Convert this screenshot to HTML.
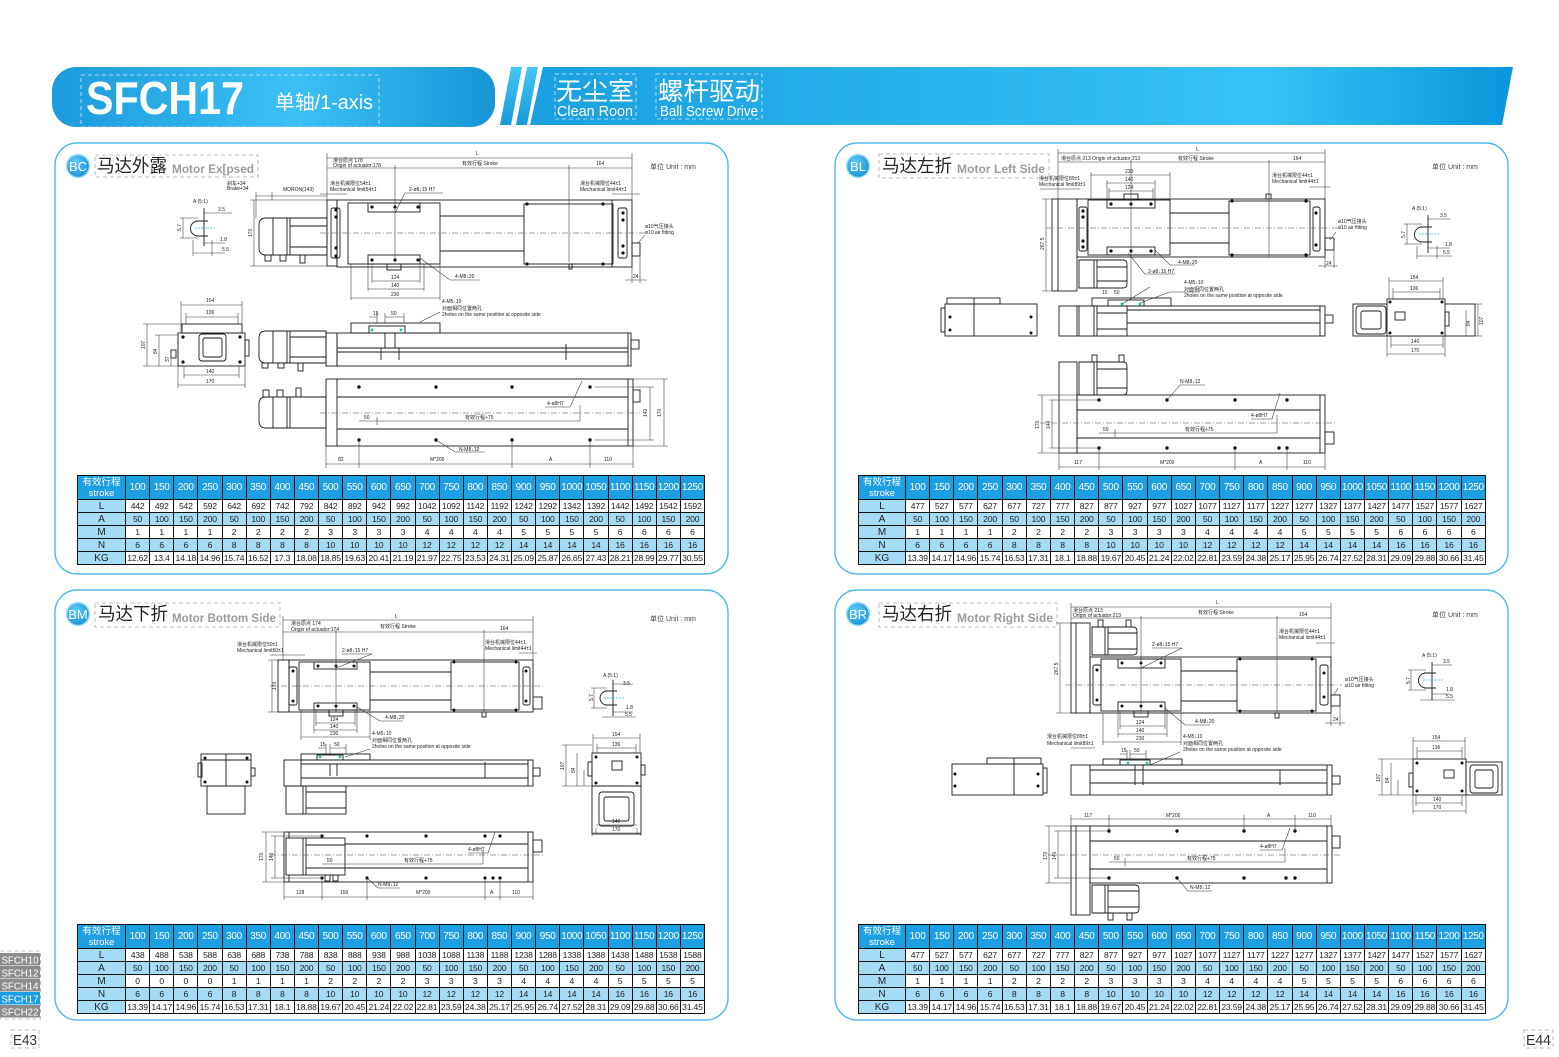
<!DOCTYPE html>
<html><head><meta charset="utf-8">
<style>
html,body{margin:0;padding:0;background:#fff;}
body{width:1559px;height:1057px;position:relative;overflow:hidden;font-family:"Liberation Sans","Noto Sans CJK SC",sans-serif;}
svg{position:absolute;left:0;top:0;font-family:"Liberation Sans","Noto Sans CJK SC",sans-serif;}
.k{fill:none;stroke:#1a1a1a;stroke-width:.9}
.w{fill:#fff;stroke:#1a1a1a;stroke-width:.9}
.d{fill:none;stroke:#333;stroke-width:.55}
.c{fill:none;stroke:#444;stroke-width:.55;stroke-dasharray:6 2 1 2}
.h{fill:#111}
.t{font-size:5px;fill:#222}
.u{font-size:7px;fill:#444}
.pn{fill:none;stroke:#55b9e8;stroke-width:1.4}
.db{fill:none;stroke:#aaa;stroke-width:.8;stroke-dasharray:4 3}
.dw{fill:none;stroke:#d6e6ee;stroke-width:.8;stroke-dasharray:4 3}
.tb{position:absolute;border-collapse:collapse;table-layout:fixed;width:628px;font-family:"Liberation Sans","Noto Sans CJK SC",sans-serif;}
.tb td{border:1px solid #111;padding:0;text-align:center;font-size:8.6px;line-height:11px;height:12px;color:#222;overflow:hidden;white-space:nowrap;background:#fff;letter-spacing:-0.2px}
.tb tr.hd td{background:#1d9fe2;color:#fff;font-size:10px;height:23px;line-height:11px;letter-spacing:-0.3px}
.tb tr.hd td:first-child{font-size:9.5px;line-height:11px;letter-spacing:0}
.tb tr.b td{background:#a6dbf6}
.tb td.f{background:#a6dbf6;font-size:10px;color:#222;letter-spacing:0}
</style></head><body>
<svg width="1559" height="1057" viewBox="0 0 1559 1057">
<defs>
<linearGradient id="gL" x1="0" x2="1" y1="0" y2="0"><stop offset="0" stop-color="#1b9bdb"/><stop offset="0.55" stop-color="#3cc0f4"/><stop offset="1" stop-color="#1796d6"/></linearGradient>
<linearGradient id="gR" x1="0" x2="1" y1="0" y2="0"><stop offset="0" stop-color="#1aa0e0"/><stop offset="0.75" stop-color="#38c1f4"/><stop offset="1" stop-color="#0a96dc"/></linearGradient>
<linearGradient id="gS" x1="0" x2="0" y1="0" y2="1"><stop offset="0" stop-color="#45c6f5"/><stop offset="1" stop-color="#1798d8"/></linearGradient>
<radialGradient id="gB" cx="0.4" cy="0.35" r="0.7"><stop offset="0" stop-color="#5fcdf7"/><stop offset="1" stop-color="#1690d6"/></radialGradient>
</defs>

<!-- HEADER -->
<rect x="52" y="67" width="443" height="60" rx="24" fill="url(#gL)"/>
<rect x="81" y="75" width="298" height="52" class="dw"/>
<text x="86" y="114" font-size="46" font-weight="bold" fill="#fff" textLength="158" lengthAdjust="spacingAndGlyphs">SFCH17</text>
<text x="275" y="109" font-size="20" fill="#fff" textLength="98" lengthAdjust="spacingAndGlyphs">单轴/1-axis</text>
<polygon points="511,67 522,67 511,125 500,125" fill="url(#gS)"/>
<polygon points="527,67 538,67 527,125 516,125" fill="url(#gS)"/>
<polygon points="543,67 1513,67 1502,125 530,125" fill="url(#gR)"/>
<rect x="555" y="74" width="81" height="45" class="dw"/>
<rect x="656" y="74" width="106" height="45" class="dw"/>
<text x="556" y="100" font-size="25" fill="#fff" textLength="78" lengthAdjust="spacingAndGlyphs">无尘室</text>
<text x="557" y="116" font-size="15" fill="#fff" textLength="76" lengthAdjust="spacingAndGlyphs">Clean Roon</text>
<text x="658" y="100" font-size="25" fill="#fff" textLength="102" lengthAdjust="spacingAndGlyphs">螺杆驱动</text>
<text x="660" y="116" font-size="15" fill="#fff" textLength="98" lengthAdjust="spacingAndGlyphs">Ball Screw Drive</text>

<!-- PANELS -->
<rect x="55" y="143" width="673" height="431" rx="22" class="pn"/>
<rect x="835" y="143" width="673" height="431" rx="22" class="pn"/>
<rect x="55" y="590" width="673" height="430" rx="22" class="pn"/>
<rect x="835" y="590" width="673" height="430" rx="22" class="pn"/>

<!-- panel headings -->
<g>
<circle cx="78" cy="166" r="11.5" fill="url(#gB)" stroke="#a8dcf6" stroke-width="1.5"/>
<text x="78" y="171" font-size="13" fill="#fff" text-anchor="middle">BC</text>
<rect x="95" y="155" width="163" height="22" class="db"/>
<text x="97" y="172" font-size="18" fill="#222" textLength="70" lengthAdjust="spacingAndGlyphs">马达外露</text>
<text x="172" y="173" font-size="12" font-weight="bold" fill="#9c9c9c" textLength="82" lengthAdjust="spacingAndGlyphs">Motor Ex[psed</text>

<circle cx="858" cy="166" r="11.5" fill="url(#gB)" stroke="#a8dcf6" stroke-width="1.5"/>
<text x="858" y="171" font-size="13" fill="#fff" text-anchor="middle">BL</text>
<rect x="879" y="154" width="170" height="24" class="db"/>
<text x="882" y="172" font-size="18" fill="#222" textLength="70" lengthAdjust="spacingAndGlyphs">马达左折</text>
<text x="957" y="173" font-size="12" font-weight="bold" fill="#9c9c9c" textLength="88" lengthAdjust="spacingAndGlyphs">Motor Left  Side</text>

<circle cx="78" cy="614" r="11.5" fill="url(#gB)" stroke="#a8dcf6" stroke-width="1.5"/>
<text x="78" y="619" font-size="13" fill="#fff" text-anchor="middle">BM</text>
<rect x="95" y="603" width="185" height="24" class="db"/>
<text x="98" y="620" font-size="18" fill="#222" textLength="70" lengthAdjust="spacingAndGlyphs">马达下折</text>
<text x="172" y="622" font-size="12" font-weight="bold" fill="#9c9c9c" textLength="104" lengthAdjust="spacingAndGlyphs">Motor Bottom Side</text>

<circle cx="858" cy="614" r="11.5" fill="url(#gB)" stroke="#a8dcf6" stroke-width="1.5"/>
<text x="858" y="619" font-size="13" fill="#fff" text-anchor="middle">BR</text>
<rect x="879" y="603" width="178" height="24" class="db"/>
<text x="882" y="620" font-size="18" fill="#222" textLength="70" lengthAdjust="spacingAndGlyphs">马达右折</text>
<text x="957" y="622" font-size="12" font-weight="bold" fill="#9c9c9c" textLength="96" lengthAdjust="spacingAndGlyphs">Motor Right  Side</text>

<text x="650" y="169" class="u">单位 Unit : mm</text>
<text x="1432" y="169" class="u">单位 Unit : mm</text>
<text x="650" y="621" class="u">单位 Unit : mm</text>
<text x="1432" y="617" class="u">单位 Unit : mm</text>
</g>

<!-- ================= BC ================= -->
<g>
<g class="k">
<path d="M266,218 h61 v37 h-61 q-7,0 -7,-7 v-23 q0,-7 7,-7z"/>
<line x1="273" y1="218" x2="273" y2="255"/><line x1="287" y1="218" x2="287" y2="255"/><line x1="290" y1="218" x2="290" y2="255"/>
<line x1="290" y1="226" x2="327" y2="226"/><line x1="290" y1="247" x2="327" y2="247"/>
<rect x="265" y="255" width="6" height="6"/><rect x="280" y="255" width="6" height="6"/><rect x="300" y="255" width="5" height="8"/>
<rect x="327" y="200" width="10" height="66"/>
<rect x="331" y="208" width="9" height="50" rx="2"/>
<rect x="337" y="200" width="295" height="67"/>
<line x1="440" y1="216" x2="524" y2="216"/><line x1="440" y1="251" x2="524" y2="251"/>
<rect x="348" y="203" width="92" height="61" class="w"/>
<rect x="368" y="203" width="52" height="9"/>
<rect x="368" y="255" width="52" height="9"/>
<rect x="387" y="264" width="14" height="6"/>
<rect x="524" y="204" width="89" height="60" class="w"/>
<line x1="612" y1="200" x2="612" y2="267"/>
<rect x="618" y="208" width="9" height="50" rx="2"/>
<rect x="632" y="243" width="8" height="13"/>
<rect x="569" y="264" width="3" height="5"/>
</g>
<line x1="320" y1="233" x2="645" y2="233" class="c"/>
<g class="h">
<circle cx="336" cy="210" r="1.6"/><circle cx="336" cy="217" r="1.6"/><circle cx="336" cy="248" r="1.6"/><circle cx="336" cy="256" r="1.6"/>
<circle cx="372" cy="207" r="1.6"/><circle cx="395" cy="207" r="1.6"/><circle cx="418" cy="207" r="1.6"/>
<circle cx="372" cy="260" r="1.6"/><circle cx="395" cy="260" r="1.6"/><circle cx="418" cy="260" r="1.6"/>
<circle cx="527" cy="204" r="1.6"/><circle cx="603" cy="204" r="1.6"/><circle cx="527" cy="264" r="1.6"/><circle cx="603" cy="264" r="1.6"/>
<circle cx="623" cy="213" r="1.6"/><circle cx="623" cy="220" r="1.6"/><circle cx="623" cy="246" r="1.6"/><circle cx="623" cy="253" r="1.6"/>
</g>
<g class="d">
<path d="M327,158 H632 M327,153 V200 M632,153 V200 M327,168 H632 M395,165 V262 M569,165 V262"/>
<path d="M320,194 H347 M612,194 H640 M256,196 H327 M256,192 V218 M272,192 V200"/>
<path d="M254,200 V266 M250,200 H327 M250,266 H327"/>
<path d="M372,264 V283 M420,264 V283 M368,264 V291 M424,264 V291 M351,264 V300 M440,264 V300 M372,281 H420 M368,289 H424 M351,298 H440"/>
<path d="M443,193 H405 L395,213 M420,258 L450,280 H480 M638,243 L645,235 M632,256 V283 M640,256 V283 M625,280 H647"/>
<path d="M420,322 L440,312"/>
</g>
<g class="t">
<text x="476" y="155">L</text>
<text x="333" y="162">滑台原点 178</text><text x="333" y="167">Origin of actuator:178</text>
<text x="462" y="165">有效行程 Stroke</text><text x="596" y="165">164</text>
<text x="330" y="185">滑台机械限位54±1</text><text x="330" y="191">Mechanical limit54±1</text>
<text x="580" y="185">滑台机械限位44±1</text><text x="580" y="191">Mechanical limit44±1</text>
<text x="409" y="191">2-ø8↓15 H7</text>
<text x="227" y="185">刹车+34</text><text x="227" y="190">Brake+34</text>
<text x="283" y="191">MORON(143)</text>
<text x="252" y="237" transform="rotate(-90 252 237)">170</text>
<text x="391" y="279">124</text><text x="391" y="287">140</text><text x="391" y="296">230</text>
<text x="455" y="278">4-M8↓20</text>
<text x="442" y="303">4-M5↓10</text><text x="442" y="310">对面相同位置两孔</text><text x="442" y="316">2holes on the same position at opposite side</text>
<text x="645" y="228">ø10气压接头</text><text x="645" y="234">ø10 air fitting</text>
<text x="633" y="278">24</text>
</g>
<g class="k">
<path d="M204,208 V246 M196,221 h12 M196,236 h12 M198,221 a7.5,7.5 0 0,0 0,15"/>
</g>
<line x1="195" y1="228" x2="216" y2="228" stroke="#3ab6d8" stroke-width=".8" stroke-dasharray="2 1"/>
<g class="d"><path d="M183,218 V238 M180,218 H198 M180,238 H198 M204,213 H232 M204,243 H225 M193,253 H225 M193,240 V256 M212,240 V256"/></g>
<g class="t"><text x="193" y="203">A (5:1)</text><text x="218" y="211">3.5</text><text x="181" y="231" transform="rotate(-90 181 231)">5.7</text><text x="220" y="241">1.8</text><text x="222" y="251">5.5</text></g>

<g class="k">
<rect x="178" y="333" width="67" height="33"/>
<rect x="182" y="324" width="60" height="9"/>
<rect x="199" y="334" width="27" height="27" rx="3"/>
<rect x="203" y="338" width="19" height="19" rx="2"/>
<rect x="245" y="340" width="4" height="16"/>
<rect x="171" y="350" width="5" height="8"/>
</g>
<g class="h"><circle cx="183" cy="337" r="1.6"/><circle cx="240" cy="337" r="1.6"/><circle cx="183" cy="362" r="1.6"/><circle cx="240" cy="362" r="1.6"/></g>
<g class="d">
<path d="M181,305 H242 M181,301 V333 M242,301 V333 M186,317 H238 M186,313 V324 M238,313 V324"/>
<path d="M184,375 H239 M184,366 V378 M239,366 V378 M178,385 H245 M178,366 V388 M245,366 V388"/>
<path d="M147,324 V366 M143,324 H182 M143,366 H178 M159,335 V366 M155,335 H178 M171,352 V366"/>
</g>
<g class="t"><text x="206" y="302">154</text><text x="206" y="314">136</text><text x="206" y="373">140</text><text x="206" y="383">170</text>
<text x="145" y="349" transform="rotate(-90 145 349)">107</text><text x="157" y="354" transform="rotate(-90 157 354)">84</text><text x="169" y="362" transform="rotate(-90 169 362)">37</text></g>
<g class="k">
<path d="M266,331 h60 v32 h-60 q-7,0 -7,-7 v-18 q0,-7 7,-7z"/>
<line x1="273" y1="331" x2="273" y2="363"/><line x1="287" y1="331" x2="287" y2="363"/><line x1="290" y1="331" x2="290" y2="363"/>
<line x1="290" y1="337" x2="326" y2="337"/><line x1="290" y1="357" x2="326" y2="357"/>
<rect x="262" y="363" width="6" height="5"/><rect x="278" y="363" width="6" height="5"/><rect x="298" y="363" width="5" height="8"/>
<rect x="326" y="333" width="11" height="33"/>
<rect x="337" y="333" width="294" height="33"/>
<line x1="337" y1="348" x2="628" y2="348"/><line x1="337" y1="352" x2="628" y2="352"/><line x1="628" y1="333" x2="628" y2="366"/>
<rect x="351" y="323" width="89" height="10"/>
<rect x="369" y="326" width="36" height="7"/>
<path d="M385,333 v15 h10 v-15 M381,348 v12 M399,348 v12 M566,344 v16"/>
<rect x="631" y="340" width="8" height="9"/>
</g>
<circle cx="372" cy="330" r="1.5" fill="#2cc3b0"/><circle cx="401" cy="330" r="1.5" fill="#2cc3b0"/>
<g class="d"><path d="M369,317 H377 M385,317 H404 M385,313 V323 M404,313 V323 M377,313 V323"/></g>
<g class="t"><text x="373" y="315">15</text><text x="391" y="315">50</text></g>
<g class="k">
<path d="M266,397 h60 v31 h-60 q-7,0 -7,-7 v-17 q0,-7 7,-7z"/>
<line x1="273" y1="397" x2="273" y2="428"/><line x1="287" y1="397" x2="287" y2="428"/><line x1="290" y1="397" x2="290" y2="428"/>
<rect x="263" y="390" width="6" height="7"/><rect x="277" y="390" width="6" height="7"/><rect x="296" y="388" width="5" height="9"/>
<rect x="326" y="379" width="307" height="67"/>
<line x1="337" y1="379" x2="337" y2="446"/><line x1="628" y1="379" x2="628" y2="446"/>
<line x1="337" y1="397" x2="628" y2="397"/><line x1="337" y1="429" x2="628" y2="429"/>
<rect x="633" y="390" width="7" height="12"/>
</g>
<line x1="320" y1="413" x2="640" y2="413" class="c"/>
<g class="h"><circle cx="359" cy="387" r="1.7"/><circle cx="436" cy="387" r="1.7"/><circle cx="512" cy="387" r="1.7"/><circle cx="590" cy="387" r="1.7"/>
<circle cx="359" cy="440" r="1.7"/><circle cx="436" cy="440" r="1.7"/><circle cx="512" cy="440" r="1.7"/><circle cx="590" cy="440" r="1.7"/></g>
<g class="d">
<path d="M633,379 H668 M633,446 H668 M664,379 V446 M595,387 H654 M595,440 H654 M650,387 V440"/>
<path d="M326,464 H633 M326,446 V468 M359,440 V468 M512,440 V468 M590,440 V468 M633,446 V468"/>
<path d="M436,440 L455,452 H485 M582,381 L570,407 H545 M359,421 H580 M580,421 V405 M377,417 V425"/>
</g>
<g class="t"><text x="661" y="417" transform="rotate(-90 661 417)">170</text><text x="647" y="417" transform="rotate(-90 647 417)">140</text>
<text x="338" y="461">82</text><text x="430" y="461">M*200</text><text x="549" y="461">A</text><text x="604" y="461">110</text>
<text x="459" y="451">N-M8↓12</text><text x="547" y="405">4-ø8H7</text><text x="465" y="419">有效行程+75</text><text x="364" y="419">50</text></g>
</g>

<!-- ================= BL ================= -->
<g>
<g class="k">
<rect x="1052" y="199" width="25" height="92"/><line x1="1058" y1="199" x2="1058" y2="291"/>
<rect x="1077" y="199" width="248" height="58"/>
<rect x="1079" y="207" width="8" height="44" rx="2"/>
<line x1="1170" y1="213" x2="1229" y2="213"/><line x1="1170" y1="243" x2="1229" y2="243"/>
<rect x="1088" y="200" width="82" height="55" class="w"/>
<rect x="1107" y="200" width="48" height="8"/><rect x="1107" y="247" width="48" height="8"/>
<rect x="1124" y="194" width="14" height="6"/>
<rect x="1229" y="201" width="81" height="54" class="w"/>
<rect x="1313" y="207" width="7" height="44" rx="2"/>
<rect x="1325" y="238" width="9" height="12"/>
<path d="M1079,260 h44 q4,0 4,4 v20 q0,4 -4,4 h-44z M1094,260 v28 M1097,260 v28 M1097,267 h30 M1097,281 h30"/>
<rect x="1266" y="194" width="5" height="5"/>
</g>
<line x1="1046" y1="228" x2="1338" y2="228" class="c"/>
<g class="h">
<circle cx="1083" cy="211" r="1.6"/><circle cx="1083" cy="217" r="1.6"/><circle cx="1083" cy="241" r="1.6"/><circle cx="1083" cy="247" r="1.6"/>
<circle cx="1111" cy="204" r="1.6"/><circle cx="1131" cy="204" r="1.6"/><circle cx="1151" cy="204" r="1.6"/>
<circle cx="1111" cy="251" r="1.6"/><circle cx="1131" cy="251" r="1.6"/><circle cx="1151" cy="251" r="1.6"/>
<circle cx="1232" cy="201" r="1.6"/><circle cx="1306" cy="201" r="1.6"/><circle cx="1232" cy="255" r="1.6"/><circle cx="1306" cy="255" r="1.6"/>
<circle cx="1316" cy="213" r="1.6"/><circle cx="1316" cy="245" r="1.6"/>
</g>
<g class="d">
<path d="M1058,153 H1325 M1058,149 V199 M1325,149 V199 M1058,162 H1325 M1131,160 V300 M1269,160 V257"/>
<path d="M1091,175 H1170 M1107,183 H1155 M1109,191 H1153 M1091,172 V200 M1170,172 V200 M1107,180 V200 M1155,180 V200 M1109,188 V200 M1153,188 V200"/>
<path d="M1046,199 V291 M1042,199 H1052 M1042,291 H1052 M1040,189 H1080 M1310,187 H1330"/>
<path d="M1336,232 L1330,240 M1318,266 H1338 M1325,250 V268 M1334,250 V268"/>
<path d="M1155,250 L1170,265 H1195 M1128,253 L1145,274 H1175 M1140,303 L1170,292 H1200"/>
</g>
<g class="t">
<text x="1196" y="151">L</text>
<text x="1061" y="160">滑台原点 213 Origin of actuator:213</text><text x="1178" y="160">有效行程 Stroke</text><text x="1293" y="160">164</text>
<text x="1125" y="173">230</text><text x="1125" y="181">140</text><text x="1125" y="189">124</text>
<text x="1039" y="180">滑台机械限位89±1</text><text x="1039" y="186">Mechanical limit89±1</text>
<text x="1272" y="177">滑台机械限位44±1</text><text x="1272" y="183">Mechanical limit44±1</text>
<text x="1044" y="250" transform="rotate(-90 1044 250)">267.5</text>
<text x="1338" y="223">ø10气压接头</text><text x="1338" y="229">ø10 air fitting</text>
<text x="1326" y="265">24</text>
<text x="1178" y="264">4-M8↓20</text><text x="1148" y="273">2-ø8↓15 H7</text>
<text x="1184" y="284">4-M5↓10</text><text x="1184" y="291">对面相同位置两孔</text><text x="1184" y="297">2holes on the same position at opposite side</text>
</g>
<g class="k"><path d="M1428,215 V253 M1420,227 h12 M1420,242 h12 M1422,227 a7.5,7.5 0 0,0 0,15"/></g>
<line x1="1419" y1="234" x2="1440" y2="234" stroke="#3ab6d8" stroke-width=".8" stroke-dasharray="2 1"/>
<g class="d"><path d="M1407,224 V244 M1404,224 H1422 M1404,244 H1422 M1428,219 H1450 M1428,248 H1450 M1417,256 H1452 M1417,246 V259 M1437,246 V259"/></g>
<g class="t"><text x="1412" y="210">A (5:1)</text><text x="1440" y="217">3.5</text><text x="1405" y="238" transform="rotate(-90 1405 238)">5.7</text><text x="1445" y="246">1.8</text><text x="1443" y="254">5.5</text></g>
<g class="k">
<rect x="945" y="304" width="92" height="32"/><rect x="947" y="298" width="53" height="6"/>
<line x1="974" y1="298" x2="974" y2="336"/><rect x="941" y="308" width="4" height="24"/>
<rect x="1059" y="306" width="266" height="30"/>
<line x1="1077" y1="306" x2="1077" y2="336"/>
<line x1="1127" y1="310" x2="1320" y2="310"/><line x1="1127" y1="323" x2="1320" y2="323"/><line x1="1320" y1="306" x2="1320" y2="336"/>
<rect x="1079" y="306" width="48" height="30" class="w"/><path d="M1094,306 v30 M1097,306 v30 M1097,313 h30 M1097,329 h30"/>
<rect x="1092" y="298" width="79" height="8"/><rect x="1108" y="300" width="36" height="6"/>
<rect x="1325" y="315" width="8" height="8"/>
<rect x="1353" y="304" width="122" height="32"/>
<rect x="1356" y="306" width="30" height="28" rx="3"/><rect x="1361" y="311" width="20" height="18" rx="2"/>
<rect x="1387" y="299" width="58" height="37" class="w"/>
<rect x="1395" y="312" width="10" height="8"/><rect x="1445" y="312" width="4" height="14"/>
</g>
<circle cx="1122" cy="304" r="1.5" fill="#2cc3b0"/><circle cx="1140" cy="304" r="1.5" fill="#2cc3b0"/>
<g class="h"><circle cx="950" cy="317" r="1.5"/><circle cx="950" cy="330" r="1.5"/><circle cx="1031" cy="317" r="1.5"/><circle cx="1031" cy="333" r="1.5"/>
<circle cx="1390" cy="302" r="1.5"/><circle cx="1442" cy="302" r="1.5"/><circle cx="1390" cy="333" r="1.5"/><circle cx="1442" cy="333" r="1.5"/></g>
<g class="d">
<path d="M1389,281 H1443 M1389,277 V299 M1443,277 V299 M1393,292 H1440 M1393,288 V299 M1440,288 V299"/>
<path d="M1391,345 H1443 M1391,336 V348 M1443,336 V348 M1387,354 H1445 M1387,336 V357 M1445,336 V357"/>
<path d="M1478,304 V336 M1475,304 H1482 M1475,336 H1482 M1466,310 V336"/>
<path d="M1122,304 L1150,287"/>
</g>
<g class="t"><text x="1410" y="279">154</text><text x="1410" y="290">136</text><text x="1411" y="343">140</text><text x="1411" y="352">170</text>
<text x="1483" y="325" transform="rotate(-90 1483 325)">107</text><text x="1470" y="326" transform="rotate(-90 1470 326)">84</text>
<text x="1102" y="294">15</text><text x="1114" y="294">50</text></g>
<g class="k">
<rect x="1059" y="362" width="18" height="91"/>
<path d="M1079,362 h44 q4,0 4,4 v25 q0,4 -4,4 h-44z M1094,362 v33 M1097,362 v33 M1097,369 h30 M1097,388 h30"/>
<rect x="1092" y="355" width="5" height="7"/><rect x="1119" y="355" width="5" height="7"/>
<rect x="1077" y="395" width="248" height="58"/>
<line x1="1077" y1="410" x2="1320" y2="410"/><line x1="1077" y1="438" x2="1320" y2="438"/><line x1="1320" y1="395" x2="1320" y2="453"/>
<rect x="1325" y="432" width="9" height="12"/>
</g>
<line x1="1040" y1="423" x2="1335" y2="423" class="c"/>
<g class="h"><circle cx="1099" cy="400" r="1.7"/><circle cx="1167" cy="400" r="1.7"/><circle cx="1235" cy="400" r="1.7"/><circle cx="1287" cy="400" r="1.7"/>
<circle cx="1099" cy="448" r="1.7"/><circle cx="1167" cy="448" r="1.7"/><circle cx="1235" cy="448" r="1.7"/><circle cx="1279" cy="448" r="1.7"/><circle cx="1287" cy="448" r="1.7"/></g>
<g class="d">
<path d="M1038,395 H1077 M1038,453 H1077 M1042,395 V453 M1049,400 H1099 M1049,448 H1099 M1052,400 V448"/>
<path d="M1059,467 H1325 M1059,453 V470 M1099,448 V470 M1235,448 V470 M1287,448 V470 M1325,453 V470"/>
<path d="M1167,400 L1180,385 H1205 M1251,419 H1272 L1280,393 M1099,433 H1277 M1277,433 V415 M1115,429 V437"/>
</g>
<g class="t"><text x="1039" y="429" transform="rotate(-90 1039 429)">170</text><text x="1050" y="429" transform="rotate(-90 1050 429)">140</text>
<text x="1074" y="464">117</text><text x="1160" y="464">M*200</text><text x="1259" y="464">A</text><text x="1303" y="464">110</text>
<text x="1180" y="383">N-M8↓12</text><text x="1251" y="417">4-ø8H7</text><text x="1185" y="431">有效行程+75</text><text x="1103" y="431">50</text></g>
</g>

<!-- ================= BM ================= -->
<g>
<g class="k">
<rect x="278" y="660" width="11" height="52"/>
<rect x="289" y="660" width="244" height="52"/>
<rect x="289" y="667" width="8" height="38" rx="2"/>
<line x1="370" y1="672" x2="451" y2="672"/><line x1="370" y1="700" x2="451" y2="700"/>
<rect x="299" y="662" width="71" height="48" class="w"/>
<rect x="314" y="662" width="43" height="7"/><rect x="314" y="703" width="43" height="7"/>
<rect x="329" y="710" width="14" height="6"/>
<rect x="451" y="662" width="68" height="48" class="w"/>
<rect x="523" y="667" width="7" height="38" rx="2"/>
<rect x="533" y="697" width="9" height="12"/>
<rect x="482" y="712" width="4" height="5"/>
</g>
<line x1="270" y1="686" x2="545" y2="686" class="c"/>
<g class="h"><circle cx="293" cy="671" r="1.5"/><circle cx="293" cy="701" r="1.5"/>
<circle cx="318" cy="666" r="1.5"/><circle cx="336" cy="666" r="1.5"/><circle cx="354" cy="666" r="1.5"/>
<circle cx="318" cy="706" r="1.5"/><circle cx="336" cy="706" r="1.5"/><circle cx="354" cy="706" r="1.5"/>
<circle cx="454" cy="662" r="1.5"/><circle cx="516" cy="662" r="1.5"/><circle cx="454" cy="710" r="1.5"/><circle cx="516" cy="710" r="1.5"/>
<circle cx="526" cy="671" r="1.5"/><circle cx="526" cy="701" r="1.5"/></g>
<g class="d">
<path d="M283,620 H533 M283,616 V660 M533,616 V660 M283,632 H533 M336,630 V712 M484,630 V712"/>
<path d="M270,655 H305 M519,653 H537 M342,654 H372 L336,668"/>
<path d="M272,660 V712 M268,660 H278 M268,712 H278"/>
<path d="M316,723 H355 M314,730 H357 M301,737 H370 M316,710 V726 M355,710 V726 M314,710 V733 M357,710 V733 M301,710 V740 M370,710 V740"/>
<path d="M357,707 L380,721 H403 M345,757 L370,749"/>
</g>
<g class="t"><text x="395" y="618">L</text>
<text x="291" y="625">滑台原点 174</text><text x="291" y="631">Origin of actuator:174</text><text x="380" y="628">有效行程 Stroke</text><text x="500" y="630">164</text>
<text x="237" y="646">滑台机械限位50±1</text><text x="237" y="652">Mechanical limit50±1</text>
<text x="485" y="644">滑台机械限位44±1</text><text x="485" y="650">Mechanical limit44±1</text>
<text x="342" y="652">2-ø8↓15 H7</text>
<text x="276" y="690" transform="rotate(-90 276 690)">170</text>
<text x="330" y="721">124</text><text x="330" y="728">140</text><text x="330" y="735">230</text>
<text x="385" y="719">4-M8↓20</text>
<text x="372" y="735">4-M5↓10</text><text x="372" y="742">对面相同位置两孔</text><text x="372" y="748">2holes on the same position at opposite side</text>
</g>
<g class="k"><path d="M613,680 V716 M605,691 h12 M605,705 h12 M607,691 a7,7 0 0,0 0,14"/></g>
<line x1="604" y1="698" x2="624" y2="698" stroke="#3ab6d8" stroke-width=".8" stroke-dasharray="2 1"/>
<g class="d"><path d="M594,688 V708 M591,688 H607 M591,708 H607 M613,684 H633 M613,712 H633 M602,717 H636"/></g>
<g class="t"><text x="603" y="677">A (5:1)</text><text x="623" y="685">3.5</text><text x="593" y="701" transform="rotate(-90 593 701)">5.7</text><text x="626" y="709">1.8</text><text x="625" y="716">5.5</text></g>
<g class="k">
<rect x="201" y="754" width="50" height="32"/><rect x="207" y="786" width="38" height="28"/>
<line x1="201" y1="760" x2="251" y2="760"/><line x1="226" y1="754" x2="226" y2="786"/>
<rect x="198" y="763" width="4" height="14"/><rect x="251" y="768" width="4" height="8"/>
<rect x="284" y="760" width="249" height="26"/>
<line x1="301" y1="760" x2="301" y2="786"/>
<line x1="301" y1="764" x2="528" y2="764"/><line x1="301" y1="778" x2="528" y2="778"/><line x1="528" y1="760" x2="528" y2="786"/>
<rect x="301" y="754" width="69" height="6"/><rect x="317" y="755" width="26" height="5"/>
<path d="M330,764 v12 M337,764 v12 M485,762 v16"/>
<rect x="286" y="786" width="60" height="28"/><path d="M303,786 v28 M306,786 v28 M306,792 h40 M306,808 h40"/>
<rect x="533" y="768" width="7" height="8"/>
<rect x="592" y="753" width="49" height="33"/><rect x="592" y="786" width="49" height="48"/>
<rect x="599" y="792" width="35" height="34" rx="3"/><rect x="604" y="797" width="25" height="24" rx="2"/>
<rect x="612" y="761" width="10" height="9"/><rect x="588" y="762" width="4" height="14"/><rect x="641" y="765" width="4" height="10"/>
</g>
<circle cx="320" cy="757" r="1.4" fill="#2cc3b0"/><circle cx="340" cy="757" r="1.4" fill="#2cc3b0"/>
<g class="h"><circle cx="205" cy="758" r="1.5"/><circle cx="247" cy="758" r="1.5"/><circle cx="205" cy="782" r="1.5"/><circle cx="247" cy="782" r="1.5"/>
<circle cx="596" cy="757" r="1.5"/><circle cx="637" cy="757" r="1.5"/><circle cx="596" cy="783" r="1.5"/><circle cx="637" cy="783" r="1.5"/></g>
<g class="d">
<path d="M593,738 H640 M593,734 V753 M640,734 V753 M597,748 H636 M597,744 V753 M636,744 V753"/>
<path d="M596,825 H637 M596,834 V828 M637,834 V828 M592,833 H641 M592,834 V836 M641,834 V836"/>
<path d="M566,745 V786 M562,745 H592 M562,786 H592 M577,753 V786 M584,770 V786"/>
<path d="M318,748 H326 M330,748 H346 M326,744 V754 M330,744 V754 M346,744 V754"/>
</g>
<g class="t"><text x="612" y="736">154</text><text x="612" y="746">136</text><text x="612" y="823">140</text><text x="612" y="831">170</text>
<text x="564" y="770" transform="rotate(-90 564 770)">107</text><text x="575" y="773" transform="rotate(-90 575 773)">84</text>
<text x="320" y="746">15</text><text x="334" y="746">50</text></g>
<g class="k">
<rect x="284" y="832" width="249" height="50"/>
<line x1="289" y1="832" x2="289" y2="882"/><line x1="528" y1="832" x2="528" y2="882"/>
<line x1="345" y1="844" x2="528" y2="844"/><line x1="345" y1="868" x2="528" y2="868"/>
<rect x="286" y="838" width="59" height="37" class="w"/><path d="M303,838 v37 M306,838 v37 M306,845 h39 M306,868 h39"/>
<rect x="325" y="875" width="5" height="6"/><rect x="333" y="875" width="5" height="6"/>
<rect x="533" y="840" width="9" height="12"/>
</g>
<line x1="270" y1="855" x2="545" y2="855" class="c"/>
<g class="h"><circle cx="322" cy="836" r="1.6"/><circle cx="367" cy="836" r="1.6"/><circle cx="426" cy="836" r="1.6"/><circle cx="485" cy="836" r="1.6"/><circle cx="500" cy="836" r="1.6"/>
<circle cx="322" cy="878" r="1.6"/><circle cx="367" cy="878" r="1.6"/><circle cx="426" cy="878" r="1.6"/><circle cx="485" cy="878" r="1.6"/><circle cx="493" cy="878" r="1.6"/><circle cx="500" cy="878" r="1.6"/></g>
<g class="d">
<path d="M262,832 H284 M262,882 H284 M266,832 V882 M271,836 H322 M271,878 H322 M275,836 V878"/>
<path d="M284,897 H533 M284,882 V900 M322,878 V900 M367,878 V900 M485,878 V900 M500,878 V900 M533,882 V900"/>
<path d="M367,878 L378,888 H400 M468,853 H488 L495,832 M322,864 H483 M483,864 V850"/>
</g>
<g class="t"><text x="263" y="861" transform="rotate(-90 263 861)">170</text><text x="273" y="861" transform="rotate(-90 273 861)">140</text>
<text x="296" y="894">128</text><text x="340" y="894">150</text><text x="416" y="894">M*200</text><text x="490" y="894">A</text><text x="512" y="894">110</text>
<text x="378" y="886">N-M8↓12</text><text x="468" y="851">4-ø8H7</text><text x="404" y="862">有效行程+75</text><text x="327" y="862">50</text></g>
</g>

<!-- ================= BR ================= -->
<g>
<g class="k">
<rect x="1071" y="623" width="19" height="90"/><line x1="1076" y1="623" x2="1076" y2="713"/>
<path d="M1092,627 h41 q4,0 4,4 v20 q0,4 -4,4 h-41z M1105,627 v28 M1108,627 v28 M1108,633 h29 M1108,649 h29"/>
<rect x="1098" y="620" width="5" height="7"/><rect x="1126" y="620" width="5" height="7"/>
<rect x="1090" y="657" width="241" height="56"/>
<rect x="1093" y="665" width="8" height="40" rx="2"/>
<line x1="1181" y1="671" x2="1237" y2="671"/><line x1="1181" y1="701" x2="1237" y2="701"/>
<rect x="1101" y="659" width="80" height="52" class="w"/>
<rect x="1118" y="659" width="47" height="9"/><rect x="1118" y="702" width="47" height="9"/>
<rect x="1134" y="711" width="14" height="6"/>
<rect x="1237" y="659" width="79" height="52" class="w"/>
<rect x="1320" y="665" width="8" height="40" rx="2"/>
<rect x="1331" y="695" width="9" height="11"/>
<rect x="1275" y="713" width="4" height="5"/>
</g>
<line x1="1065" y1="685" x2="1342" y2="685" class="c"/>
<g class="h"><circle cx="1097" cy="670" r="1.5"/><circle cx="1097" cy="700" r="1.5"/>
<circle cx="1122" cy="663" r="1.5"/><circle cx="1141" cy="663" r="1.5"/><circle cx="1161" cy="663" r="1.5"/>
<circle cx="1122" cy="706" r="1.5"/><circle cx="1141" cy="706" r="1.5"/><circle cx="1161" cy="706" r="1.5"/>
<circle cx="1240" cy="659" r="1.5"/><circle cx="1312" cy="659" r="1.5"/><circle cx="1240" cy="711" r="1.5"/><circle cx="1312" cy="711" r="1.5"/>
<circle cx="1324" cy="673" r="1.5"/><circle cx="1324" cy="697" r="1.5"/></g>
<g class="d">
<path d="M1071,607 H1331 M1071,603 V623 M1331,603 V657 M1071,618 H1331 M1141,616 V713 M1277,616 V713"/>
<path d="M1316,643 H1335 M1152,648 H1182 L1141,668"/>
<path d="M1060,623 V713 M1056,623 H1071 M1056,713 H1071"/>
<path d="M1338,688 L1334,695 M1325,723 H1345 M1331,706 V726 M1340,706 V726"/>
<path d="M1120,726 H1165 M1118,734 H1167 M1103,742 H1181 M1120,711 V729 M1165,711 V729 M1118,711 V737 M1167,711 V737 M1103,713 V745 M1181,713 V745"/>
<path d="M1165,708 L1185,725 H1210 M1071,748 H1095 M1150,765 L1180,752"/>
</g>
<g class="t"><text x="1216" y="604">L</text>
<text x="1073" y="612">滑台原点 213</text><text x="1073" y="617">Origin of actuator:213</text><text x="1198" y="614">有效行程 Stroke</text><text x="1299" y="616">164</text>
<text x="1279" y="633">滑台机械限位44±1</text><text x="1279" y="639">Mechanical limit44±1</text>
<text x="1152" y="646">2-ø8↓15 H7</text>
<text x="1058" y="675" transform="rotate(-90 1058 675)">267.5</text>
<text x="1345" y="681">ø10气压接头</text><text x="1345" y="687">ø10 air fitting</text>
<text x="1333" y="721">24</text>
<text x="1136" y="724">124</text><text x="1136" y="732">140</text><text x="1136" y="740">230</text>
<text x="1195" y="723">4-M8↓20</text>
<text x="1183" y="738">4-M5↓10</text><text x="1183" y="745">对面相同位置两孔</text><text x="1183" y="751">2holes on the same position at opposite side</text>
<text x="1047" y="738">滑台机械限位89±1</text><text x="1047" y="745">Mechanical limit89±1</text>
</g>
<g class="k"><path d="M1432,662 V700 M1424,673 h12 M1424,688 h12 M1426,673 a7.5,7.5 0 0,0 0,15"/></g>
<line x1="1423" y1="680" x2="1444" y2="680" stroke="#3ab6d8" stroke-width=".8" stroke-dasharray="2 1"/>
<g class="d"><path d="M1411,670 V690 M1408,670 H1426 M1408,690 H1426 M1432,665 H1452 M1432,694 H1450 M1420,700 H1455"/></g>
<g class="t"><text x="1422" y="657">A (5:1)</text><text x="1443" y="663">3.5</text><text x="1410" y="684" transform="rotate(-90 1410 684)">5.7</text><text x="1446" y="691">1.8</text><text x="1446" y="698">5.5</text></g>
<g class="k">
<rect x="952" y="764" width="91" height="31"/><rect x="987" y="758" width="54" height="6"/>
<line x1="1014" y1="758" x2="1014" y2="795"/><rect x="1043" y="768" width="4" height="25"/>
<rect x="1071" y="765" width="261" height="30"/>
<line x1="1090" y1="765" x2="1090" y2="795"/>
<line x1="1090" y1="770" x2="1327" y2="770"/><line x1="1090" y1="783" x2="1327" y2="783"/><line x1="1327" y1="765" x2="1327" y2="795"/>
<rect x="1103" y="759" width="79" height="6"/><rect x="1120" y="760" width="30" height="5"/>
<path d="M1135,765 v20 M1143,765 v20 M1280,770 v15"/>
<rect x="1332" y="776" width="8" height="8"/>
<rect x="1413" y="759" width="53" height="36"/>
<rect x="1466" y="762" width="36" height="33"/><rect x="1470" y="765" width="28" height="28" rx="3"/><rect x="1475" y="770" width="18" height="18" rx="2"/>
<rect x="1444" y="770" width="10" height="8"/><rect x="1409" y="773" width="4" height="14"/>
</g>
<circle cx="1128" cy="763" r="1.4" fill="#2cc3b0"/><circle cx="1147" cy="763" r="1.4" fill="#2cc3b0"/>
<g class="h"><circle cx="955" cy="774" r="1.5"/><circle cx="955" cy="786" r="1.5"/><circle cx="1038" cy="774" r="1.5"/><circle cx="1038" cy="786" r="1.5"/>
<circle cx="1417" cy="763" r="1.5"/><circle cx="1462" cy="763" r="1.5"/><circle cx="1417" cy="791" r="1.5"/><circle cx="1462" cy="791" r="1.5"/></g>
<g class="d">
<path d="M1413,741 H1465 M1413,737 V759 M1465,737 V759 M1417,751 H1462 M1417,747 V759 M1462,747 V759"/>
<path d="M1416,803 H1462 M1416,795 V806 M1462,795 V806 M1413,811 H1466 M1413,795 V814 M1466,795 V814"/>
<path d="M1382,759 V795 M1378,759 H1413 M1378,795 H1413 M1391,763 V795 M1398,780 V795"/>
<path d="M1120,754 H1127 M1130,754 H1146 M1127,750 V759 M1130,750 V759 M1146,750 V759"/>
</g>
<g class="t"><text x="1432" y="739">154</text><text x="1432" y="749">136</text><text x="1433" y="801">140</text><text x="1433" y="809">170</text>
<text x="1380" y="782" transform="rotate(-90 1380 782)">107</text><text x="1389" y="783" transform="rotate(-90 1389 783)">84</text>
<text x="1121" y="752">15</text><text x="1134" y="752">50</text></g>
<g class="k">
<rect x="1071" y="826" width="19" height="89"/><line x1="1076" y1="826" x2="1076" y2="915"/>
<rect x="1090" y="826" width="242" height="57"/>
<line x1="1090" y1="841" x2="1327" y2="841"/><line x1="1090" y1="869" x2="1327" y2="869"/><line x1="1327" y1="826" x2="1327" y2="883"/>
<path d="M1092,885 h43 q4,0 4,4 v20 q0,4 -4,4 h-43z M1105,885 v28 M1108,885 v28 M1108,891 h31 M1108,907 h31"/>
<rect x="1108" y="913" width="5" height="7"/><rect x="1127" y="913" width="5" height="7"/>
<rect x="1332" y="836" width="8" height="12"/>
</g>
<line x1="1048" y1="855" x2="1342" y2="855" class="c"/>
<g class="h"><circle cx="1109" cy="831" r="1.7"/><circle cx="1177" cy="831" r="1.7"/><circle cx="1244" cy="831" r="1.7"/><circle cx="1295" cy="831" r="1.7"/>
<circle cx="1109" cy="878" r="1.7"/><circle cx="1177" cy="878" r="1.7"/><circle cx="1244" cy="878" r="1.7"/><circle cx="1286" cy="878" r="1.7"/><circle cx="1295" cy="878" r="1.7"/></g>
<g class="d">
<path d="M1071,819 H1331 M1071,815 V826 M1109,815 V831 M1244,815 V831 M1295,815 V831 M1331,815 V826"/>
<path d="M1045,826 H1071 M1045,883 H1071 M1049,826 V883 M1054,831 H1109 M1054,878 H1109 M1058,831 V878"/>
<path d="M1260,850 H1282 L1290,828 M1109,862 H1285 M1285,862 V848 M1125,858 V866 M1177,878 L1188,891 H1212"/>
</g>
<g class="t"><text x="1047" y="860" transform="rotate(-90 1047 860)">170</text><text x="1056" y="860" transform="rotate(-90 1056 860)">140</text>
<text x="1084" y="817">117</text><text x="1166" y="817">M*200</text><text x="1267" y="817">A</text><text x="1308" y="817">110</text>
<text x="1260" y="848">4-ø8H7</text><text x="1187" y="860">有效行程+75</text><text x="1114" y="860">50</text><text x="1190" y="889">N-M8↓12</text></g>
</g>

<!-- SIDE TABS -->
<rect x="0.5" y="951" width="40" height="68" class="db"/>
<rect x="0" y="953" width="40" height="12.5" fill="#8c8c8c"/>
<rect x="0" y="966" width="40" height="12.5" fill="#8c8c8c"/>
<rect x="0" y="979" width="40" height="12.5" fill="#8c8c8c"/>
<rect x="0" y="992" width="40" height="12.5" fill="#1b9ee3"/>
<rect x="0" y="1005" width="40" height="12.5" fill="#8c8c8c"/>
<g font-size="10.5" fill="#fff">
<text x="1.5" y="963.5" textLength="37" lengthAdjust="spacingAndGlyphs">SFCH10</text>
<text x="1.5" y="976.5" textLength="37" lengthAdjust="spacingAndGlyphs">SFCH12</text>
<text x="1.5" y="989.5" textLength="37" lengthAdjust="spacingAndGlyphs">SFCH14</text>
<text x="1.5" y="1002.5" textLength="37" lengthAdjust="spacingAndGlyphs">SFCH17</text>
<text x="1.5" y="1015.5" textLength="37" lengthAdjust="spacingAndGlyphs">SFCH22</text>
</g>
<rect x="11" y="1030" width="28" height="18" class="db"/>
<text x="13" y="1045" font-size="15" fill="#333" textLength="24" lengthAdjust="spacingAndGlyphs">E43</text>
<rect x="1524" y="1030" width="29" height="18" class="db"/>
<text x="1526" y="1045" font-size="15" fill="#333" textLength="25" lengthAdjust="spacingAndGlyphs">E44</text>
</svg>

<!-- TABLES -->
<table class="tb" style="left:77px;top:475px">
<colgroup><col style="width:48px"><col span="24"></colgroup>
<tr class="hd"><td>有效行程<br>stroke</td><td>100</td><td>150</td><td>200</td><td>250</td><td>300</td><td>350</td><td>400</td><td>450</td><td>500</td><td>550</td><td>600</td><td>650</td><td>700</td><td>750</td><td>800</td><td>850</td><td>900</td><td>950</td><td>1000</td><td>1050</td><td>1100</td><td>1150</td><td>1200</td><td>1250</td></tr>
<tr><td class="f">L</td><td>442</td><td>492</td><td>542</td><td>592</td><td>642</td><td>692</td><td>742</td><td>792</td><td>842</td><td>892</td><td>942</td><td>992</td><td>1042</td><td>1092</td><td>1142</td><td>1192</td><td>1242</td><td>1292</td><td>1342</td><td>1392</td><td>1442</td><td>1492</td><td>1542</td><td>1592</td></tr>
<tr class="b"><td class="f">A</td><td>50</td><td>100</td><td>150</td><td>200</td><td>50</td><td>100</td><td>150</td><td>200</td><td>50</td><td>100</td><td>150</td><td>200</td><td>50</td><td>100</td><td>150</td><td>200</td><td>50</td><td>100</td><td>150</td><td>200</td><td>50</td><td>100</td><td>150</td><td>200</td></tr>
<tr><td class="f">M</td><td>1</td><td>1</td><td>1</td><td>1</td><td>2</td><td>2</td><td>2</td><td>2</td><td>3</td><td>3</td><td>3</td><td>3</td><td>4</td><td>4</td><td>4</td><td>4</td><td>5</td><td>5</td><td>5</td><td>5</td><td>6</td><td>6</td><td>6</td><td>6</td></tr>
<tr class="b"><td class="f">N</td><td>6</td><td>6</td><td>6</td><td>6</td><td>8</td><td>8</td><td>8</td><td>8</td><td>10</td><td>10</td><td>10</td><td>10</td><td>12</td><td>12</td><td>12</td><td>12</td><td>14</td><td>14</td><td>14</td><td>14</td><td>16</td><td>16</td><td>16</td><td>16</td></tr>
<tr><td class="f">KG</td><td>12.62</td><td>13.4</td><td>14.18</td><td>14.96</td><td>15.74</td><td>16.52</td><td>17.3</td><td>18.08</td><td>18.85</td><td>19.63</td><td>20.41</td><td>21.19</td><td>21.97</td><td>22.75</td><td>23.53</td><td>24.31</td><td>25.09</td><td>25.87</td><td>26.65</td><td>27.43</td><td>28.21</td><td>28.99</td><td>29.77</td><td>30.55</td></tr>
</table>

<table class="tb" style="left:858px;top:475px">
<colgroup><col style="width:47px"><col span="24"></colgroup>
<tr class="hd"><td>有效行程<br>stroke</td><td>100</td><td>150</td><td>200</td><td>250</td><td>300</td><td>350</td><td>400</td><td>450</td><td>500</td><td>550</td><td>600</td><td>650</td><td>700</td><td>750</td><td>800</td><td>850</td><td>900</td><td>950</td><td>1000</td><td>1050</td><td>1100</td><td>1150</td><td>1200</td><td>1250</td></tr>
<tr><td class="f">L</td><td>477</td><td>527</td><td>577</td><td>627</td><td>677</td><td>727</td><td>777</td><td>827</td><td>877</td><td>927</td><td>977</td><td>1027</td><td>1077</td><td>1127</td><td>1177</td><td>1227</td><td>1277</td><td>1327</td><td>1377</td><td>1427</td><td>1477</td><td>1527</td><td>1577</td><td>1627</td></tr>
<tr class="b"><td class="f">A</td><td>50</td><td>100</td><td>150</td><td>200</td><td>50</td><td>100</td><td>150</td><td>200</td><td>50</td><td>100</td><td>150</td><td>200</td><td>50</td><td>100</td><td>150</td><td>200</td><td>50</td><td>100</td><td>150</td><td>200</td><td>50</td><td>100</td><td>150</td><td>200</td></tr>
<tr><td class="f">M</td><td>1</td><td>1</td><td>1</td><td>1</td><td>2</td><td>2</td><td>2</td><td>2</td><td>3</td><td>3</td><td>3</td><td>3</td><td>4</td><td>4</td><td>4</td><td>4</td><td>5</td><td>5</td><td>5</td><td>5</td><td>6</td><td>6</td><td>6</td><td>6</td></tr>
<tr class="b"><td class="f">N</td><td>6</td><td>6</td><td>6</td><td>6</td><td>8</td><td>8</td><td>8</td><td>8</td><td>10</td><td>10</td><td>10</td><td>10</td><td>12</td><td>12</td><td>12</td><td>12</td><td>14</td><td>14</td><td>14</td><td>14</td><td>16</td><td>16</td><td>16</td><td>16</td></tr>
<tr><td class="f">KG</td><td>13.39</td><td>14.17</td><td>14.96</td><td>15.74</td><td>16.53</td><td>17.31</td><td>18.1</td><td>18.88</td><td>19.67</td><td>20.45</td><td>21.24</td><td>22.02</td><td>22.81</td><td>23.59</td><td>24.38</td><td>25.17</td><td>25.95</td><td>26.74</td><td>27.52</td><td>28.31</td><td>29.09</td><td>29.88</td><td>30.66</td><td>31.45</td></tr>
</table>

<table class="tb" style="left:77px;top:924px">
<colgroup><col style="width:48px"><col span="24"></colgroup>
<tr class="hd"><td>有效行程<br>stroke</td><td>100</td><td>150</td><td>200</td><td>250</td><td>300</td><td>350</td><td>400</td><td>450</td><td>500</td><td>550</td><td>600</td><td>650</td><td>700</td><td>750</td><td>800</td><td>850</td><td>900</td><td>950</td><td>1000</td><td>1050</td><td>1100</td><td>1150</td><td>1200</td><td>1250</td></tr>
<tr><td class="f">L</td><td>438</td><td>488</td><td>538</td><td>588</td><td>638</td><td>688</td><td>738</td><td>788</td><td>838</td><td>888</td><td>938</td><td>988</td><td>1038</td><td>1088</td><td>1138</td><td>1188</td><td>1238</td><td>1288</td><td>1338</td><td>1388</td><td>1438</td><td>1488</td><td>1538</td><td>1588</td></tr>
<tr class="b"><td class="f">A</td><td>50</td><td>100</td><td>150</td><td>200</td><td>50</td><td>100</td><td>150</td><td>200</td><td>50</td><td>100</td><td>150</td><td>200</td><td>50</td><td>100</td><td>150</td><td>200</td><td>50</td><td>100</td><td>150</td><td>200</td><td>50</td><td>100</td><td>150</td><td>200</td></tr>
<tr><td class="f">M</td><td>0</td><td>0</td><td>0</td><td>0</td><td>1</td><td>1</td><td>1</td><td>1</td><td>2</td><td>2</td><td>2</td><td>2</td><td>3</td><td>3</td><td>3</td><td>3</td><td>4</td><td>4</td><td>4</td><td>4</td><td>5</td><td>5</td><td>5</td><td>5</td></tr>
<tr class="b"><td class="f">N</td><td>6</td><td>6</td><td>6</td><td>6</td><td>8</td><td>8</td><td>8</td><td>8</td><td>10</td><td>10</td><td>10</td><td>10</td><td>12</td><td>12</td><td>12</td><td>12</td><td>14</td><td>14</td><td>14</td><td>14</td><td>16</td><td>16</td><td>16</td><td>16</td></tr>
<tr><td class="f">KG</td><td>13.39</td><td>14.17</td><td>14.96</td><td>15.74</td><td>16.53</td><td>17.31</td><td>18.1</td><td>18.88</td><td>19.67</td><td>20.45</td><td>21.24</td><td>22.02</td><td>22.81</td><td>23.59</td><td>24.38</td><td>25.17</td><td>25.95</td><td>26.74</td><td>27.52</td><td>28.31</td><td>29.09</td><td>29.88</td><td>30.66</td><td>31.45</td></tr>
</table>

<table class="tb" style="left:858px;top:924px">
<colgroup><col style="width:47px"><col span="24"></colgroup>
<tr class="hd"><td>有效行程<br>stroke</td><td>100</td><td>150</td><td>200</td><td>250</td><td>300</td><td>350</td><td>400</td><td>450</td><td>500</td><td>550</td><td>600</td><td>650</td><td>700</td><td>750</td><td>800</td><td>850</td><td>900</td><td>950</td><td>1000</td><td>1050</td><td>1100</td><td>1150</td><td>1200</td><td>1250</td></tr>
<tr><td class="f">L</td><td>477</td><td>527</td><td>577</td><td>627</td><td>677</td><td>727</td><td>777</td><td>827</td><td>877</td><td>927</td><td>977</td><td>1027</td><td>1077</td><td>1127</td><td>1177</td><td>1227</td><td>1277</td><td>1327</td><td>1377</td><td>1427</td><td>1477</td><td>1527</td><td>1577</td><td>1627</td></tr>
<tr class="b"><td class="f">A</td><td>50</td><td>100</td><td>150</td><td>200</td><td>50</td><td>100</td><td>150</td><td>200</td><td>50</td><td>100</td><td>150</td><td>200</td><td>50</td><td>100</td><td>150</td><td>200</td><td>50</td><td>100</td><td>150</td><td>200</td><td>50</td><td>100</td><td>150</td><td>200</td></tr>
<tr><td class="f">M</td><td>1</td><td>1</td><td>1</td><td>1</td><td>2</td><td>2</td><td>2</td><td>2</td><td>3</td><td>3</td><td>3</td><td>3</td><td>4</td><td>4</td><td>4</td><td>4</td><td>5</td><td>5</td><td>5</td><td>5</td><td>6</td><td>6</td><td>6</td><td>6</td></tr>
<tr class="b"><td class="f">N</td><td>6</td><td>6</td><td>6</td><td>6</td><td>8</td><td>8</td><td>8</td><td>8</td><td>10</td><td>10</td><td>10</td><td>10</td><td>12</td><td>12</td><td>12</td><td>12</td><td>14</td><td>14</td><td>14</td><td>14</td><td>16</td><td>16</td><td>16</td><td>16</td></tr>
<tr><td class="f">KG</td><td>13.39</td><td>14.17</td><td>14.96</td><td>15.74</td><td>16.53</td><td>17.31</td><td>18.1</td><td>18.88</td><td>19.67</td><td>20.45</td><td>21.24</td><td>22.02</td><td>22.81</td><td>23.59</td><td>24.38</td><td>25.17</td><td>25.95</td><td>26.74</td><td>27.52</td><td>28.31</td><td>29.09</td><td>29.88</td><td>30.66</td><td>31.45</td></tr>
</table>
</body></html>
